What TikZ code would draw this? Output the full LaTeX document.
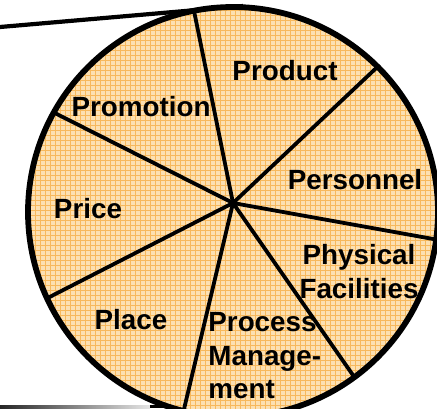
\documentclass[tikz,border=0pt]{standalone}
\usepackage{fontspec}
\setmainfont{Liberation Sans}

\definecolor{piefill}{RGB}{252,224,178}
\definecolor{piegrid}{RGB}{247,184,92}

\tikzset{
  sector/.style={font=\fontsize{13.9}{16.8}\selectfont\bfseries, inner sep=0pt},
  divider/.style={line width=1.9pt},
  rim/.style={line width=2.9pt},
}

\begin{document}
\begin{tikzpicture}[x=0.5pt, y=-0.5pt]
    \useasboundingbox (0,0) rectangle (437,408);
    \clip (0,0) rectangle (437,408);

    % Centre of the rim and hub of the slices
    \coordinate (centre) at (233,212);
    \coordinate (hub) at (233,203);

    % Rim points (a bit past the rim, clipped below)
    \coordinate (rimA) at (191,-4);
    \coordinate (rimB) at (389,56);
    \coordinate (rimC) at (450,242);
    \coordinate (rimD) at (364,391);
    \coordinate (rimE) at (180,426);
    \coordinate (rimF) at (32,306);
    \coordinate (rimG) at (35,103);

    % Side lines
    \draw[line width=2.1pt] (0,27) -- (243,6);
    \shade[left color=black!85, right color=black!10] (0,405) rectangle (150,408);
    \fill[black] (150,405) rectangle (195,408);

    % Body with grid texture and slices
    \fill[piefill] (centre) circle (205);
    \begin{scope}
        \clip (centre) circle (205);
        \foreach \g in {0,5,...,440} {
            \draw[piegrid, line width=0.3pt] (\g,0) -- (\g,420);
            \draw[piegrid, line width=0.3pt] (0,\g) -- (440,\g);
        }
        \foreach \p in {rimA,rimB,rimC,rimD,rimE,rimF,rimG}
            \draw[divider] (hub) -- (\p);
    \end{scope}
    \draw[rim] (centre) circle (205);

    % Slice names
    \node[sector] (product) at (285,71) {Product};
    \node[sector] (promotion) at (141,107) {Promotion};
    \node[sector] (personnel) at (355,180) {Personnel};
    \node[sector] (price) at (88,209) {Price};
    \node[sector, align=center, anchor=north] (facilities) at (359,244) {Physical\\Facilities};
    \node[sector] (place) at (131,320) {Place};
    \node[sector, align=left, anchor=north west] (process) at (208,312) {Process\\Manage-\\ment};
\end{tikzpicture}
\end{document}
